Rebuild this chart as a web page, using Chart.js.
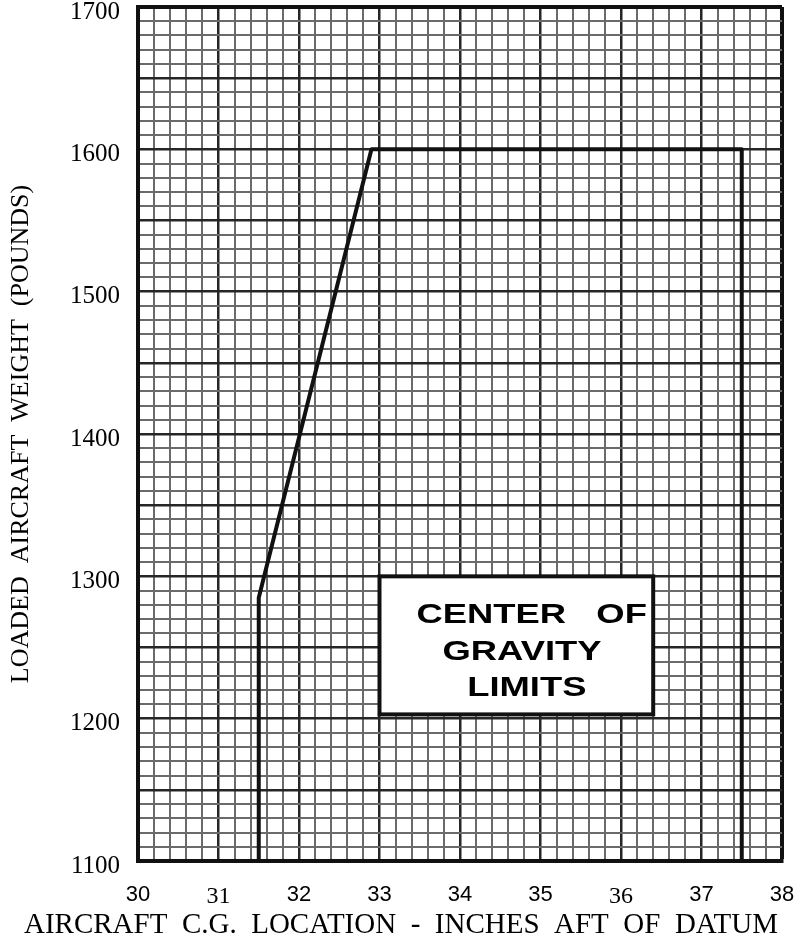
<!DOCTYPE html>
<html>
<head>
<meta charset="utf-8">
<script src="https://cdn.jsdelivr.net/npm/chart.js@4"></script>
<style>
  html, body { margin: 0; padding: 0; background: #ffffff; }
  #wrap { width: 802px; height: 943px; position: relative; }
</style>
</head>
<body>
<div id="wrap"><canvas id="c"></canvas></div>
<script>
// ---- data ----
const cgInches  = [31.5, 31.5, 32.9, 37.5, 37.5];      // envelope x (inches aft of datum)
const weightLbs = [1100, 1285, 1600, 1600, 1100];      // envelope y (pounds)
const xTickValues = [30, 31, 32, 33, 34, 35, 36, 37, 38];
const yTickValues = [1100, 1200, 1300, 1400, 1500, 1600, 1700];
const serifXTicks = [31, 36];                           // labels printed in a serif face
const boxCorners  = { x: [33.0, 36.4], y: [1203, 1300] };
const boxLines    = ['CENTER   OF', 'GRAVITY', 'LIMITS'];
const boxLineX    = [34.89, 34.77, 34.83];
const boxLineY    = [1274, 1248, 1223];
const xTitle = 'AIRCRAFT  C.G.  LOCATION  -  INCHES  AFT  OF  DATUM';
const yTitle = 'LOADED  AIRCRAFT  WEIGHT  (POUNDS)';

const SERIF = '"Liberation Serif", "Times New Roman", serif';
const SANS  = '"Liberation Sans", Arial, sans-serif';

const near = (a, b) => Math.abs(a - b) < 1e-6;
const isXMajor = v => near(v, Math.round(v));
const isYMajor = v => near(v % 50, 0);

const MINOR_COLOR = '#6a6a6a';
const MAJOR_COLOR = '#262626';

const boxPlugin = {
  id: 'cgBox',
  afterDatasetsDraw(chart) {
    const {ctx, scales: {x, y}} = chart;
    const l = x.getPixelForValue(boxCorners.x[0]);
    const r = x.getPixelForValue(boxCorners.x[1]);
    const t = y.getPixelForValue(boxCorners.y[1]);
    const b = y.getPixelForValue(boxCorners.y[0]);
    ctx.save();
    ctx.fillStyle = '#ffffff';
    ctx.fillRect(l, t, r - l, b - t);
    ctx.lineWidth = 4;
    ctx.strokeStyle = '#111111';
    ctx.strokeRect(l, t, r - l, b - t);
    const fs = 28;
    ctx.font = 'bold ' + fs + 'px ' + SANS;
    ctx.fillStyle = '#000000';
    ctx.textAlign = 'center';
    ctx.textBaseline = 'alphabetic';
    boxLines.forEach((txt, i) => {
      const cx = x.getPixelForValue(boxLineX[i]);
      const cy = y.getPixelForValue(boxLineY[i]) + 0.358 * fs;
      ctx.save();
      ctx.translate(cx, cy);
      ctx.scale(1.3, 1);
      ctx.fillText(txt, 0, 0);
      ctx.restore();
    });
    ctx.restore();
  }
};

new Chart(document.getElementById('c'), {
  type: 'scatter',
  data: {
    datasets: [{
      data: cgInches.map((v, i) => ({x: v, y: weightLbs[i]})),
      showLine: true,
      borderColor: '#111111',
      borderWidth: 4,
      borderJoinStyle: 'round',
      pointRadius: 0,
      tension: 0,
      fill: false
    }]
  },
  options: {
    responsive: true,
    maintainAspectRatio: false,
    animation: false,
    layout: { padding: { top: 7, right: 0, left: 0, bottom: 0 } },
    plugins: {
      legend: { display: false },
      tooltip: { enabled: false },
      title: {
        display: true,
        position: 'bottom',
        text: xTitle,
        color: '#000',
        font: { family: SERIF, size: 29, weight: 'normal' },
        padding: { top: 0, bottom: 0 }
      }
    },
    scales: {
      x: {
        type: 'linear',
        min: 30, max: 38,
        afterFit: s => { s.height = 47.2; s.paddingLeft = 0; s.paddingRight = 20; },
        ticks: {
          stepSize: 0.2,
          autoSkip: false,
          maxRotation: 0,
          padding: 21,
          color: '#000',
          callback: v => (isXMajor(v) && xTickValues.includes(Math.round(v))) ? String(Math.round(v)) : '',
          font: ctx => {
            const v = ctx.tick ? ctx.tick.value : 0;
            const serif = serifXTicks.includes(Math.round(v));
            return { family: serif ? SERIF : SANS, size: serif ? 24 : 22 };
          }
        },
        grid: {
          drawTicks: false,
          color: ctx => {
            const v = ctx.tick ? ctx.tick.value : 0;
            if (near(v, 38)) return '#111111';
            return isXMajor(v) ? MAJOR_COLOR : MINOR_COLOR;
          },
          lineWidth: ctx => {
            const v = ctx.tick ? ctx.tick.value : 0;
            if (near(v, 38)) return 4;
            return isXMajor(v) ? 2.5 : 2;
          }
        },
        border: { display: true, width: 4, color: '#111111' }
      },
      y: {
        type: 'linear',
        min: 1100, max: 1700,
        afterFit: s => { s.width = 138; s.paddingTop = 0; s.paddingBottom = 0; },
        title: {
          display: true,
          text: yTitle,
          color: '#000',
          font: { family: SERIF, size: 26, weight: 'normal' },
          padding: { top: 6, bottom: 0 }
        },
        ticks: {
          stepSize: 10,
          autoSkip: false,
          padding: 18,
          labelOffset: 5,
          color: '#000',
          font: { family: SERIF, size: 25 },
          callback: v => yTickValues.includes(v) ? String(v) : ''
        },
        grid: {
          drawTicks: false,
          color: ctx => {
            const v = ctx.tick ? ctx.tick.value : 0;
            if (v === 1700) return '#111111';
            return isYMajor(v) ? MAJOR_COLOR : MINOR_COLOR;
          },
          lineWidth: ctx => {
            const v = ctx.tick ? ctx.tick.value : 0;
            if (v === 1700) return 4;
            return isYMajor(v) ? 2.5 : 2;
          }
        },
        border: { display: true, width: 4, color: '#111111' }
      }
    }
  },
  plugins: [boxPlugin]
});
</script>
</body>
</html>
